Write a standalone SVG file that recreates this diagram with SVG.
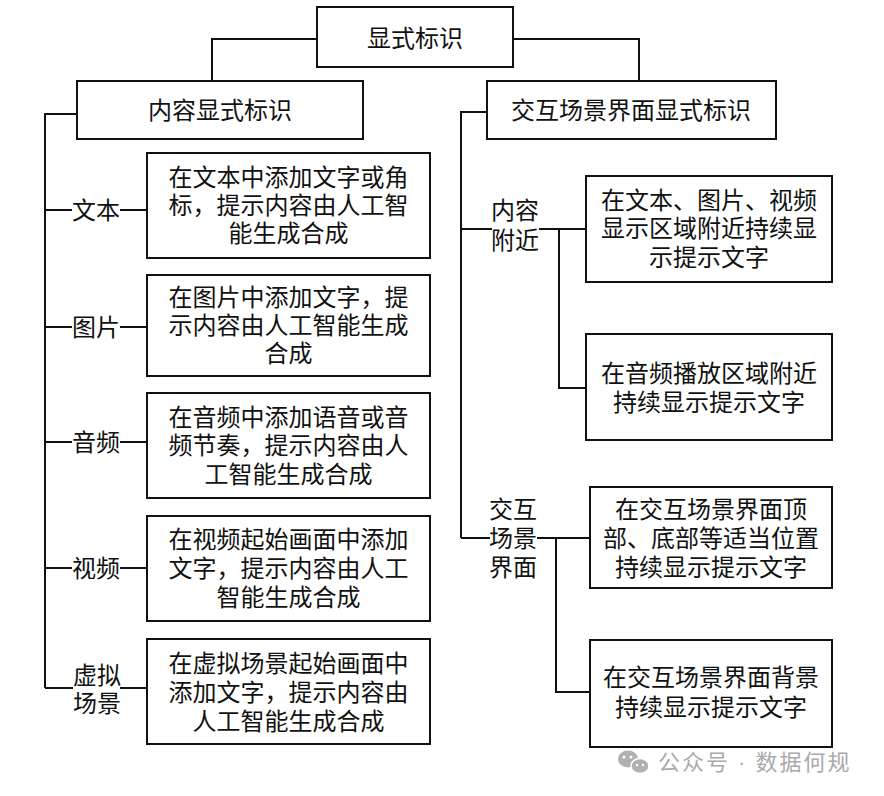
<svg xmlns="http://www.w3.org/2000/svg" width="884" height="796" viewBox="0 0 884 796">
<style>
.box{fill:#fff;stroke:#111;stroke-width:2}
.ln{fill:none;stroke:#111;stroke-width:2}
text{font-family:"Liberation Sans","Noto Sans CJK SC","Noto Sans CJK JP",sans-serif;font-size:24px;fill:#111;text-anchor:middle}
.wm{fill:#aaa;font-size:22px;text-anchor:start;letter-spacing:2px}
</style>
<rect width="884" height="796" fill="#fff"/>
<g id="connectors">
<path class="ln" d="M317 39H212V81"/>
<path class="ln" d="M513 39H639V81"/>
<path class="ln" d="M77 114H45V688"/>
<path class="ln" d="M45 210H72M120 210H147"/>
<path class="ln" d="M45 327H72M120 327H147"/>
<path class="ln" d="M45 442H72M120 442H147"/>
<path class="ln" d="M45 568H72M120 568H147"/>
<path class="ln" d="M45 688H73M120 688H147"/>
<path class="ln" d="M487 112H461V538"/>
<path class="ln" d="M461 229H492M539 229H586"/>
<path class="ln" d="M559 229V388H586"/>
<path class="ln" d="M461 538H490M537 538H590"/>
<path class="ln" d="M556 538V692H590"/>
</g>
<g id="root"><rect class="box" x="317" y="7" width="196" height="60"/><text x="415" y="47">显式标识</text></g>
<g id="content"><rect class="box" x="77" y="81" width="286" height="58"/><text x="220" y="119">内容显式标识</text></g>
<g id="interactive"><rect class="box" x="487" y="81" width="289" height="58"/><text x="631" y="119">交互场景界面显式标识</text></g>
<g id="lbl-text"><text x="96" y="219">文本</text></g>
<g id="lbl-image"><text x="96" y="336">图片</text></g>
<g id="lbl-audio"><text x="96" y="451">音频</text></g>
<g id="lbl-video"><text x="96" y="577">视频</text></g>
<g id="lbl-virtual"><text x="97" y="684">虚拟</text><text x="97" y="712">场景</text></g>
<g id="box-text"><rect class="box" x="147" y="153" width="283" height="105"/>
<text x="288.5" y="186">在文本中添加文字或角</text><text x="288.5" y="214">标，提示内容由人工智</text><text x="288.5" y="242">能生成合成</text></g>
<g id="box-image"><rect class="box" x="147" y="275" width="283" height="101"/>
<text x="288.5" y="306">在图片中添加文字，提</text><text x="288.5" y="334">示内容由人工智能生成</text><text x="288.5" y="362">合成</text></g>
<g id="box-audio"><rect class="box" x="147" y="393" width="283" height="105"/>
<text x="288.5" y="426">在音频中添加语音或音</text><text x="288.5" y="454">频节奏，提示内容由人</text><text x="288.5" y="483">工智能生成合成</text></g>
<g id="box-video"><rect class="box" x="147" y="516" width="283" height="105"/>
<text x="288.5" y="548">在视频起始画面中添加</text><text x="288.5" y="577">文字，提示内容由人工</text><text x="288.5" y="606">智能生成合成</text></g>
<g id="box-virtual"><rect class="box" x="147" y="639" width="283" height="105"/>
<text x="288.5" y="672">在虚拟场景起始画面中</text><text x="288.5" y="701">添加文字，提示内容由</text><text x="288.5" y="730">人工智能生成合成</text></g>
<g id="lbl-near"><text x="515" y="219">内容</text><text x="515" y="249">附近</text></g>
<g id="lbl-scene"><text x="513" y="518">交互</text><text x="513" y="547">场景</text><text x="513" y="576">界面</text></g>
<g id="box-near1"><rect class="box" x="586" y="176" width="246" height="106"/>
<text x="709" y="209">在文本、图片、视频</text><text x="709" y="237">显示区域附近持续显</text><text x="709" y="266">示提示文字</text></g>
<g id="box-near2"><rect class="box" x="586" y="334" width="246" height="106"/>
<text x="709" y="382">在音频播放区域附近</text><text x="709" y="411">持续显示提示文字</text></g>
<g id="box-scene1"><rect class="box" x="590" y="487" width="242" height="101"/>
<text x="711" y="518">在交互场景界面顶</text><text x="711" y="547">部、底部等适当位置</text><text x="711" y="576">持续显示提示文字</text></g>
<g id="box-scene2"><rect class="box" x="590" y="640" width="242" height="107"/>
<text x="711" y="686">在交互场景界面背景</text><text x="711" y="716">持续显示提示文字</text></g>
<g id="watermark">
<ellipse cx="628" cy="759" rx="10" ry="8.5" fill="#b0b0b0"/>
<ellipse cx="640" cy="766" rx="9" ry="7.5" fill="#b0b0b0" stroke="#fff" stroke-width="1.5"/>
<circle cx="624" cy="757" r="1.5" fill="#fff"/><circle cx="631" cy="757" r="1.5" fill="#fff"/>
<circle cx="637" cy="765" r="1.2" fill="#fff"/><circle cx="643" cy="765" r="1.2" fill="#fff"/>
<text class="wm" x="658" y="770">公众号 · 数据何规</text>
</g>
</svg>
